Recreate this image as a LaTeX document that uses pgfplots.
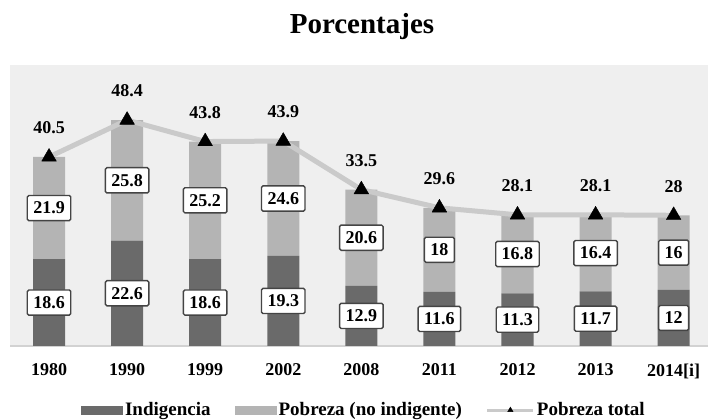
\documentclass[border=0pt]{standalone}
\usepackage{pgfplots}
\pgfplotsset{compat=1.18}
\usepackage{fontspec}
\setmainfont{Liberation Serif}
\definecolor{indig}{HTML}{6A6A6A}
\definecolor{pobre}{HTML}{B4B4B4}
\definecolor{linea}{HTML}{CACACA}
\definecolor{fondo}{HTML}{EFEFEF}
\definecolor{borde}{HTML}{444444}
\definecolor{eje}{HTML}{D2D2D2}

\pgfplotsset{
  common/.style={at={(10pt,74pt)}, anchor=south west, scale only axis,
    width=698pt, height=281pt, xmin=-0.5, xmax=8.44, ymin=0, ymax=60.2},
  swatch/.style={legend image code/.code={\fill[##1] (0pt,-4.5pt) rectangle (42pt,4.5pt);}},
  lineleg/.style={legend image code/.code={
      \draw[linea, line width=3pt] (0pt,0pt) -- (46pt,0pt);
      \fill[black] (23pt,0pt) +(90:3pt) -- +(210:3pt) -- +(330:3pt) -- cycle;}},
  caja/.style={draw=none, mark=none, nodes near coords, point meta=explicit symbolic,
    every node near coord/.style={anchor=center, fill=white, draw=borde, line width=1.4pt,
      rounded corners=1.5pt, inner xsep=6pt, inner ysep=6.5pt, text=black,
      font=\fontsize{18}{20}\selectfont\bfseries}},
}

\begin{document}
\begin{tikzpicture}[x=1pt,y=1pt]
\path[use as bounding box] (0,0) rectangle (710,420);
\node[font=\fontsize{29}{31}\selectfont\bfseries] at (362,393) {Porcentajes};

% stacked bars
\begin{axis}[common, ybar stacked, bar width=32pt,
    axis background/.style={fill=fondo},
    axis x line=bottom, axis y line=none,
    axis line style={draw=eje, line width=1.5pt, -},
    xtick={0,...,8},
    xticklabels={1980,1990,1999,2002,2008,2011,2012,2013,2014[i]},
    major tick length=0pt, ytick=\empty,
    xticklabel style={font=\fontsize{18}{20}\selectfont\bfseries, yshift=-14pt},
    legend style={at={(0.507,-0.228)}, anchor=center, draw=none, fill=none,
      legend columns=3, font=\fontsize{19}{21}\selectfont\bfseries,
      /tikz/every even column/.append style={column sep=22pt}},
  ]
  \addplot[fill=indig, draw=none, swatch] coordinates
    {(0,18.6) (1,22.6) (2,18.6) (3,19.3) (4,12.9) (5,11.6) (6,11.3) (7,11.7) (8,12)};
  \addlegendentry{Indigencia}
  \addplot[fill=pobre, draw=none, swatch] coordinates
    {(0,21.9) (1,25.8) (2,25.2) (3,24.6) (4,20.6) (5,18) (6,16.8) (7,16.4) (8,16)};
  \addlegendentry{Pobreza (no indigente)}
  \addlegendimage{lineleg}
  \addlegendentry{Pobreza total}
\end{axis}

% total line and value boxes
\begin{axis}[common, axis lines=none, ticks=none, clip=false]
  \addplot[linea, line width=5pt, line join=round, mark=triangle*, mark size=8.5pt,
    mark options={fill=black, draw=black, line width=0.4pt},
    nodes near coords, point meta=explicit symbolic,
    every node near coord/.style={anchor=center, yshift=29pt, text=black,
      font=\fontsize{18}{20}\selectfont\bfseries}]
    coordinates {(0,40.5)[40.5] (1,48.4)[48.4] (2,43.8)[43.8] (3,43.9)[43.9]
      (4,33.5)[33.5] (5,29.6)[29.6] (6,28.1)[28.1] (7,28.1)[28.1] (8,28)[28]};
  % indigencia labels at segment middles
  \addplot[caja] coordinates {(0,9.3)[18.6] (1,11.3)[22.6] (2,9.3)[18.6] (3,9.65)[19.3]
    (4,6.45)[12.9] (5,5.8)[11.6] (6,5.65)[11.3] (7,5.85)[11.7] (8,6)[12]};
  % pobreza (no indigente) labels at segment middles
  \addplot[caja] coordinates {(0,29.55)[21.9] (1,35.5)[25.8] (2,31.2)[25.2] (3,31.6)[24.6]
    (4,23.2)[20.6] (5,20.6)[18] (6,19.7)[16.8] (7,19.9)[16.4] (8,20)[16]};
\end{axis}
\end{tikzpicture}
\end{document}
